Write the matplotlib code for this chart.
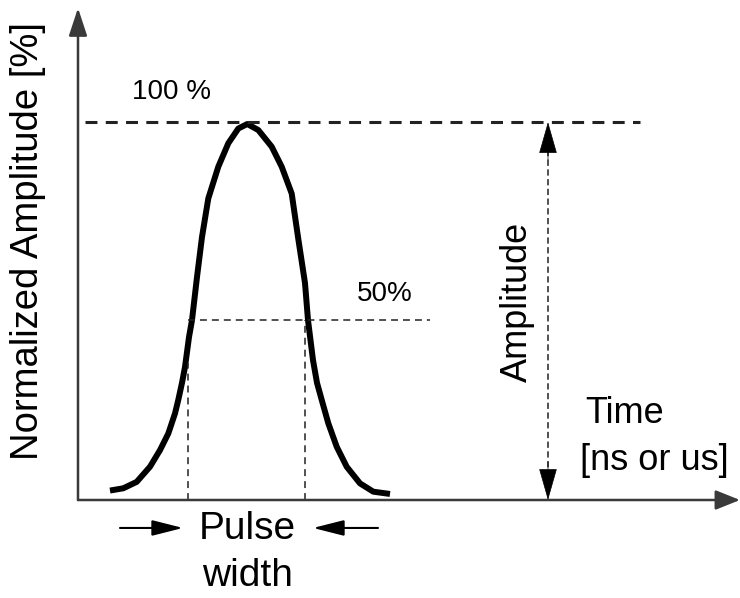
import matplotlib
matplotlib.use('Agg')
import matplotlib.pyplot as plt

plt.rcParams['font.family'] = ['Liberation Sans', 'DejaVu Sans']
plt.rcParams['lines.scale_dashes'] = False

# pulse shape (time in arbitrary units, amplitude in %)
pulse_time = [3.2, 4.53, 5.87, 7.2, 8.2, 9.03, 9.7, 10.03, 10.4, 10.7, 11.1, 11.4,
              11.9, 12.4, 13.03, 14.03, 15.03, 16.03, 16.93, 18.03, 19.37, 20.37,
              21.37, 22.0, 22.7, 23.0, 23.5, 23.9, 24.37, 25.03, 25.87, 26.87,
              28.2, 29.53, 31.2]
pulse_amp = [2.5, 3.1, 4.8, 8.8, 13.2, 17.6, 22.9, 26.5, 31.0, 35.2, 43.1, 47.6,
             59.0, 69.6, 79.8, 88.2, 94.4, 98.3, 99.5, 97.9, 93.5, 88.2,
             81.1, 69.6, 57.4, 47.6, 37.0, 31.0, 26.5, 20.3, 14.1, 8.8,
             4.4, 2.2, 1.6]

peak_level = 100
half_level = 47.6
half_left, half_right = 11.0, 22.7
left_drop_top = 36.2
peak_line = (0.7, 56.2)
half_line = (11.0, 35.2)
amp_arrow_x = 47.0
x_max, y_max = 66.2, 130.2

fig = plt.figure(figsize=(7.4, 5.98), dpi=100)
ax = fig.add_axes([78 / 740, 98 / 598, (740 - 78) / 740, 492 / 598])
ax.set_xlim(0, x_max)
ax.set_ylim(0, y_max)
ax.axis('off')

axis_col = '#3a3a3a'
# axes with arrow heads
ax.annotate('', xy=(0, y_max), xytext=(0, 0), annotation_clip=False,
            arrowprops=dict(arrowstyle='-|>,head_length=0.85,head_width=0.28',
                            mutation_scale=20, lw=1.8, color=axis_col,
                            shrinkA=0, shrinkB=0))
ax.annotate('', xy=(x_max, 0), xytext=(0, 0), annotation_clip=False,
            arrowprops=dict(arrowstyle='-|>,head_length=0.75,head_width=0.3',
                            mutation_scale=20, lw=1.8, color=axis_col,
                            shrinkA=0, shrinkB=0))

# pulse
ax.plot(pulse_time, pulse_amp, color='black', lw=4.3, solid_capstyle='butt',
        solid_joinstyle='round')

# reference lines
ax.plot(peak_line, [peak_level, peak_level], color='#222', lw=2.2, dashes=(8.6, 6.0))
ax.plot(half_line, [half_level, half_level], color='#222', lw=1.1, dashes=(5.0, 3.6))
ax.plot([half_left, half_left], [0, left_drop_top], color='#222', lw=1.1, dashes=(5.0, 3.6))
ax.plot([half_right, half_right], [0, half_level], color='#222', lw=1.1, dashes=(5.0, 3.6))

# amplitude double arrow
ax.plot([amp_arrow_x, amp_arrow_x], [6, peak_level - 6], color='#222', lw=1.1,
        dashes=(4.5, 2.5))
for tip, tail in [(peak_level, peak_level - 10), (0, 10)]:
    ax.annotate('', xy=(amp_arrow_x, tip), xytext=(amp_arrow_x, tail),
                arrowprops=dict(arrowstyle='-|>,head_length=1.05,head_width=0.3',
                                mutation_scale=20, lw=0.5, color='black',
                                shrinkA=0, shrinkB=0))

# pulse width arrows
ax.annotate('', xy=(10.5, -7.4), xytext=(4.2, -7.4), annotation_clip=False,
            arrowprops=dict(arrowstyle='-|>,head_length=0.95,head_width=0.24',
                            mutation_scale=20, lw=1.5, color='black',
                            shrinkA=0, shrinkB=0))
ax.annotate('', xy=(23.5, -7.4), xytext=(30.0, -7.4), annotation_clip=False,
            arrowprops=dict(arrowstyle='-|>,head_length=0.95,head_width=0.24',
                            mutation_scale=20, lw=1.5, color='black',
                            shrinkA=0, shrinkB=0))

# labels
ax.text(9.4, 108.0, '100 %', fontsize=20, ha='center', va='center')
ax.text(30.7, 54.5, '50%', fontsize=20, ha='center', va='center')
ax.text(43.9, 52.5, 'Amplitude', fontsize=26, rotation=90, ha='center', va='center')
ax.text(-5.0, 68.5, 'Normalized Amplitude [%]', fontsize=27.5, rotation=90,
        ha='center', va='center', clip_on=False)
ax.text(50.7, 23.0, 'Time', fontsize=26, ha='left', va='center')
ax.text(50.2, 10.5, '[ns or us]', fontsize=26, ha='left', va='center')
ax.text(16.9, -7.6, 'Pulse', fontsize=28, ha='center', va='center', clip_on=False)
ax.text(16.9, -20.0, 'width', fontsize=28, ha='center', va='center', clip_on=False)

fig.savefig('out.png', dpi=100)
